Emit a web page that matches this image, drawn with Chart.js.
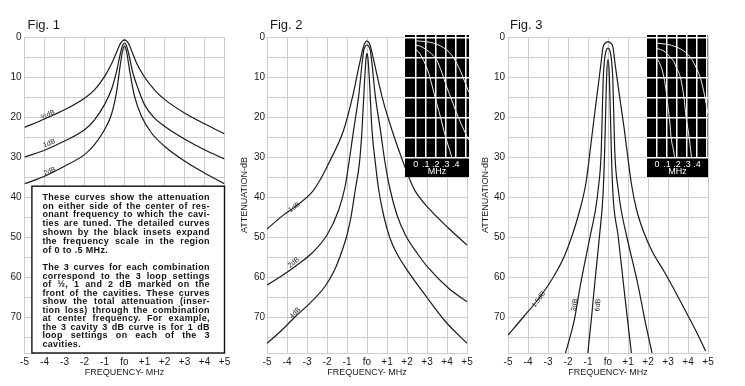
<!DOCTYPE html>
<html><head><meta charset="utf-8">
<script src="https://cdn.jsdelivr.net/npm/chart.js@4.4.1/dist/chart.umd.min.js"></script>
<style>
html,body{margin:0;padding:0;background:#fff;}
body{width:745px;height:386px;position:relative;overflow:hidden;}
canvas{position:absolute;display:block;}
</style></head><body>
<canvas id="fig1" width="240" height="386" style="left:0px;top:0px;width:240px;height:386px"></canvas>
<canvas id="fig2" width="240" height="386" style="left:240px;top:0px;width:240px;height:386px"></canvas>
<canvas id="fig3" width="265" height="386" style="left:480px;top:0px;width:265px;height:386px"></canvas>
<canvas id="inset2" width="64" height="142" style="left:405px;top:35px;width:64px;height:142px"></canvas>
<canvas id="inset3" width="61" height="142" style="left:647px;top:35px;width:61px;height:142px"></canvas>
<script>
// ---------- tick values / labels ----------
const freqTicks = [-5,-4,-3,-2,-1,0,1,2,3,4,5];
const freqTickLabels = ['-5','-4','-3','-2','-1','fo','+1','+2','+3','+4','+5'];
const dbGridTicks = [0,5,10,15,20,25,30,35,40,45,50,55,60,65,70,75];
const dbTickLabels = [0,10,20,30,40,50,60,70];
const insetFreqTicks = [0,0.1,0.2,0.3,0.4,0.5];
const insetFreqLabels = ['0','.1','.2','.3','.4',''];
const insetDbTicks = [0,5,10,15,20,25,30];
const xTitle = 'FREQUENCY- MHz';
const yTitle = 'ATTENUATION-dB';

// ---------- Fig. 1 curves: [MHz, dB] ----------
const fig1HalfDb = [[-5,22.6],[-4,20.5],[-3,18.2],[-2,15.3],[-1.5,13.2],[-1,9.9],[-0.63,6.5],[-0.38,3.6],[-0.2,1.6],[0,0.7],[0.2,1.6],[0.37,3.6],[0.6,6.5],[1,10],[1.5,13.2],[2,15.6],[3,19],[4,21.7],[5,24.2]];
const fig1OneDb = [[-5,30],[-4,28.3],[-3,26],[-2,23.2],[-1.5,20.7],[-1,16.9],[-0.63,12.8],[-0.38,8.2],[-0.2,4],[-0.1,2.2],[0,1.5],[0.1,2.2],[0.2,4],[0.42,9],[0.7,13.2],[1,16.9],[1.5,20.3],[2,22.3],[3,25.5],[4,28.2],[5,30.5]];
const fig1TwoDb = [[-5,36.7],[-4,34.8],[-3,32.3],[-2,29.4],[-1.5,26.9],[-1,23.2],[-0.63,19],[-0.38,13.2],[-0.22,7.3],[-0.1,3.6],[0,2.3],[0.1,3.6],[0.25,8.2],[0.5,14.8],[0.85,19.8],[1.35,24],[2,27.3],[3,31],[4,34],[5,36.7]];

// ---------- Fig. 2 curves ----------
const fig2OneDb = [[-5,48],[-4.2,44.6],[-3.58,42.4],[-2.75,38.8],[-2.4,36.2],[-1.92,31.6],[-1.17,23.3],[-0.72,14.9],[-0.37,6.6],[-0.15,2],[0,1],[0.15,2],[0.37,6.6],[0.75,14.9],[1.25,23.3],[1.83,31.6],[2.17,36],[2.42,38.6],[3.08,42.8],[4.08,47.8],[5,52]];
const fig2TwoDb = [[-5,62],[-4.2,59.5],[-3.58,57.3],[-2.75,54],[-2,49.5],[-1.42,43.3],[-1.1,37.5],[-0.92,32],[-0.67,23.3],[-0.42,14.9],[-0.17,3.5],[-0.08,2.3],[0,2],[0.08,2.3],[0.17,3.5],[0.42,14.9],[0.67,23.3],[0.92,32],[1.15,38],[1.5,44.5],[1.92,49.5],[2.5,54],[3.08,57.8],[4.08,62.8],[5,66.2]];
const fig2FourDb = [[-5,76.6],[-4.3,73.5],[-3.6,70],[-2.8,66.3],[-2.05,62],[-1.6,58],[-1.25,53.5],[-1,49.5],[-0.8,45],[-0.58,38],[-0.38,31.6],[-0.25,23.3],[-0.12,10.8],[-0.05,5.5],[0,4.1],[0.05,5.5],[0.12,10.8],[0.25,23.3],[0.42,31.6],[0.58,38],[0.85,45],[1.15,50.3],[1.5,54.2],[2,58.2],[2.98,65],[3.9,71],[5,76.6]];

// ---------- Fig. 3 curves ----------
const fig3OneHalfDb = [[-5,74.5],[-4.23,70],[-3.4,65],[-2.73,60],[-2.2,55],[-1.82,50],[-1.45,44],[-1.12,37],[-0.97,31.6],[-0.77,23.3],[-0.56,14.9],[-0.35,6.6],[-0.25,2.6],[-0.13,1.5],[0,1.2],[0.13,1.5],[0.25,2.6],[0.35,6.6],[0.58,14.9],[0.82,23.3],[1.03,31.6],[1.18,37],[1.42,43],[1.75,48.3],[2.2,53.5],[2.85,59],[3.4,64],[3.93,69],[4.4,73.5],[4.88,78.5]];
const fig3ThreeDb = [[-2.15,79.5],[-1.67,70.4],[-1.38,62],[-0.88,49.5],[-0.62,43],[-0.5,38.5],[-0.34,28.8],[-0.29,19.7],[-0.24,10.5],[-0.17,5.5],[-0.1,3.5],[0,2.8],[0.1,3.5],[0.17,5.5],[0.24,10.5],[0.29,19.7],[0.34,28.8],[0.52,38.5],[0.65,43],[0.92,49.5],[1.5,62],[1.83,70.4],[2.22,79.5]];
const fig3SixDb = [[-1.02,79.5],[-0.83,70.4],[-0.67,62],[-0.42,49.5],[-0.25,39.5],[-0.17,29],[-0.11,17.2],[-0.06,8.8],[0,5.6],[0.06,8.8],[0.11,17.2],[0.17,29],[0.25,39.5],[0.5,49.5],[0.78,62],[0.97,70.4],[1.18,79.5]];

// ---------- inset curves (0 - .5 MHz) ----------
const inset2OneDb = [[0,0.7],[0.1,0.9],[0.18,1.3],[0.25,2],[0.31,3],[0.36,4.3],[0.41,6.3],[0.46,9],[0.53,13.5]];
const inset2TwoDb = [[0,1.75],[0.05,2.1],[0.11,3],[0.16,4],[0.21,5.5],[0.26,8.5],[0.31,12.2],[0.36,15.5],[0.41,18.8],[0.46,21.8],[0.53,25.5]];
const inset2FourDb = [[0,3],[0.03,3.5],[0.06,4.7],[0.1,6.8],[0.13,8.8],[0.17,12.5],[0.21,16.3],[0.25,20],[0.28,23],[0.32,26.5],[0.36,29.7],[0.38,31.5]];
const inset3OneHalfDb = [[0,1.3],[0.1,1.6],[0.19,2.2],[0.27,3.3],[0.33,4.7],[0.38,6.8],[0.43,9.7],[0.46,12.5],[0.49,16.3],[0.51,19]];
const inset3ThreeDb = [[0,2.6],[0.07,3.3],[0.13,4.7],[0.17,6],[0.19,7.2],[0.22,8.8],[0.24,10.5],[0.27,15],[0.29,19.7],[0.32,24.5],[0.34,28.8],[0.35,31]];
const inset3SixDb = [[0,5.1],[0.03,6.5],[0.06,8.8],[0.09,13],[0.11,17.2],[0.13,21.5],[0.14,24.7],[0.17,28.8],[0.18,31]];

// ---------- curve labels (at MHz, dB) ----------
const fig1Labels = [{text:'½dB',x:-3.83,y:19.4,rot:-24},{text:'1dB',x:-3.76,y:26.6,rot:-22},{text:'2dB',x:-3.74,y:33.6,rot:-22}];
const fig2Labels = [{text:'1dB',x:-3.64,y:42.6,rot:-35},{text:'2dB',x:-3.67,y:56.4,rot:-40},{text:'4dB',x:-3.59,y:69,rot:-48}];
const fig3Labels = [{text:'1.5dB',x:-3.47,y:65.6,rot:-53},{text:'3dB',x:-1.67,y:67,rot:-79},{text:'6dB',x:-0.5,y:67,rot:-84}];

// ---------- Fig. 1 note ----------
const noteParagraph1 = [
 'These curves show the attenuation',
 'on either side of the center of res-',
 'onant frequency to which the cavi-',
 'ties are tuned. The detailed curves',
 'shown by the black insets expand',
 'the frequency scale in the region',
 'of 0 to .5 MHz.'];
const noteParagraph2 = [
 'The 3 curves for each combination',
 'correspond to the 3 loop settings',
 'of ½, 1 and 2 dB marked on the',
 'front of the cavities. These curves',
 'show the total attenuation (inser-',
 'tion loss) through the combination',
 'at center frequency.  For example,',
 'the 3 cavity 3 dB curve is for 1 dB',
 'loop settings on each of the 3',
 'cavities.'];

const FONT = '"Liberation Sans", Arial, sans-serif';
const INK = '#1a1a1a';
const GRID = '#cdcdcd';

const annotations = {
  fig1:{fig:'Fig. 1', figDx:3, labels:fig1Labels, note:{x0:-4.63, y0:37.3}},
  fig2:{fig:'Fig. 2', figDx:3, labels:fig2Labels},
  fig3:{fig:'Fig. 3', figDx:2, labels:fig3Labels}
};

function pts(arr){ return arr.map(p => ({x:p[0], y:p[1]})); }

function justify(ctx, line, x, y, w, doJustify){
  const words = line.split(/ +/);
  const natural = ctx.measureText(line).width;
  if (!doJustify || words.length < 2 || natural >= w) { ctx.fillText(line, x, y, w); return; }
  const ww = words.map(t => ctx.measureText(t).width);
  const gap = (w - ww.reduce((a,b)=>a+b,0)) / (words.length - 1);
  let cx = x;
  words.forEach((t,i) => { ctx.fillText(t, cx, y); cx += ww[i] + gap; });
}

function drawNote(ctx, x, y, area, note){
  const left = x.getPixelForValue(note.x0), top = y.getPixelForValue(note.y0);
  const right = area.right, bottom = area.bottom;
  ctx.fillStyle = '#fff';
  ctx.fillRect(left, top, right-left, bottom-top);
  ctx.strokeStyle = '#111'; ctx.lineWidth = 1.4;
  ctx.strokeRect(left, top, right-left, bottom-top);
  ctx.fillStyle = '#111';
  ctx.font = 'bold 9px ' + FONT;
  try { ctx.letterSpacing = '0.35px'; } catch(e) {}
  ctx.textAlign = 'left'; ctx.textBaseline = 'middle';
  const tx = left + 10.5, tw = 167.5;
  noteParagraph1.forEach((l,i) => justify(ctx, l, tx, top + 11.2 + i*8.78, tw, i < noteParagraph1.length-1));
  noteParagraph2.forEach((l,i) => justify(ctx, l, tx, top + 81.5 + i*8.48, tw, i < noteParagraph2.length-1));
  try { ctx.letterSpacing = '0px'; } catch(e) {}
}

const annotatePlugin = {
  id:'annotate',
  afterDatasetsDraw(chart){
    const a = annotations[chart.canvas.id];
    if (!a) return;
    const {ctx, chartArea, scales:{x, y}} = chart;
    ctx.save();
    if (a.note) drawNote(ctx, x, y, chartArea, a.note);
    ctx.fillStyle = INK;
    ctx.textAlign = 'center'; ctx.textBaseline = 'middle';
    ctx.font = '7px ' + FONT;
    a.labels.forEach(l => {
      ctx.save();
      ctx.translate(x.getPixelForValue(l.x), y.getPixelForValue(l.y));
      ctx.rotate(l.rot * Math.PI / 180);
      ctx.fillText(l.text, 0, 0);
      ctx.restore();
    });
    ctx.font = '13px ' + FONT;
    ctx.textAlign = 'left';
    ctx.fillText(a.fig, chartArea.left + a.figDx, 25);
    ctx.restore();
  }
};

function mainChart(id, o){
  return new Chart(document.getElementById(id), {
    type:'line',
    data:{datasets:o.curves.map(c => ({data:pts(c), borderColor:INK, borderWidth:1.2, pointRadius:0, fill:false, cubicInterpolationMode:'monotone'}))},
    options:{
      responsive:false, animation:false, events:[], devicePixelRatio:1,
      layout:{padding:{top:37, right:o.padRight, bottom:0, left:0}},
      plugins:{legend:{display:false}, tooltip:{enabled:false}},
      scales:{
        x:{type:'linear', min:-5, max:5,
          afterBuildTicks:s => { s.ticks = freqTicks.map(v => ({value:v})); },
          afterFit:s => { s.height = 33; },
          ticks:{autoSkip:false, maxRotation:0, padding:3, color:INK, font:{family:FONT, size:10}, callback:(v,i) => freqTickLabels[i]},
          grid:{color:GRID, lineWidth:1, drawTicks:false},
          border:{color:GRID},
          title:{display:true, text:xTitle, color:INK, font:{family:FONT, size:9}, padding:{top:0, bottom:8}}},
        y:{type:'linear', reverse:true, min:0, max:79,
          afterBuildTicks:s => { s.ticks = dbGridTicks.map(v => ({value:v})); },
          afterFit:s => { s.width = o.yWidth; },
          ticks:{autoSkip:false, padding:o.yPad, color:INK, font:{family:FONT, size:10}, callback:v => dbTickLabels.includes(v) ? String(v) : ''},
          grid:{color:GRID, lineWidth:1, drawTicks:false},
          border:{color:GRID},
          title:{display:!!o.yTitle, text:o.yTitle || '', color:INK, font:{family:FONT, size:9, lineHeight:1}, padding:{top:o.yTitlePad || 0, bottom:0}}}
      }
    },
    plugins:[annotatePlugin]
  });
}

function insetChart(id, o){
  return new Chart(document.getElementById(id), {
    type:'line',
    data:{datasets:o.curves.map(c => ({data:pts(c), borderColor:'#f0f0f0', borderWidth:1, pointRadius:0, fill:false, cubicInterpolationMode:'monotone'}))},
    options:{
      responsive:false, animation:false, events:[], devicePixelRatio:1,
      layout:{padding:0},
      plugins:{legend:{display:false}, tooltip:{enabled:false}},
      scales:{
        x:{type:'linear', min:o.xMin, max:o.xMax,
          afterBuildTicks:s => { s.ticks = insetFreqTicks.map(v => ({value:v})); },
          afterFit:s => { s.height = 19; },
          ticks:{autoSkip:false, maxRotation:0, padding:1, color:'#fff', font:{family:FONT, size:9}, callback:(v,i) => insetFreqLabels[i]},
          grid:{color:'#ffffff', lineWidth:1.5, drawTicks:false},
          border:{display:false},
          title:{display:true, text:'MHz', color:'#fff', font:{family:FONT, size:9}, padding:{top:0, bottom:0}}},
        y:{type:'linear', reverse:true, min:-0.75, max:30,
          afterBuildTicks:s => { s.ticks = insetDbTicks.map(v => ({value:v})); },
          afterFit:s => { s.width = 0; },
          ticks:{display:false},
          grid:{color:'#ffffff', lineWidth:1.5, drawTicks:false},
          border:{display:false}}
      }
    },
    plugins:[{id:'blackBg', beforeDraw(c){ const g = c.ctx; g.save(); g.fillStyle = '#000'; g.fillRect(0,0,c.width,c.height); g.restore(); }}]
  });
}

mainChart('fig1', {curves:[fig1HalfDb, fig1OneDb, fig1TwoDb], yWidth:24.5, padRight:15.5, yPad:3});
mainChart('fig2', {curves:[fig2OneDb, fig2TwoDb, fig2FourDb], yWidth:27, padRight:13, yPad:2, yTitle:yTitle, yTitlePad:0});
mainChart('fig3', {curves:[fig3OneHalfDb, fig3ThreeDb, fig3SixDb], yWidth:28, padRight:37, yPad:3, yTitle:yTitle, yTitlePad:1.5});
insetChart('inset2', {curves:[inset2OneDb, inset2TwoDb, inset2FourDb], xMin:-0.107, xMax:0.533});
insetChart('inset3', {curves:[inset3OneHalfDb, inset3ThreeDb, inset3SixDb], xMin:-0.1, xMax:0.51});
</script>
</body></html>
